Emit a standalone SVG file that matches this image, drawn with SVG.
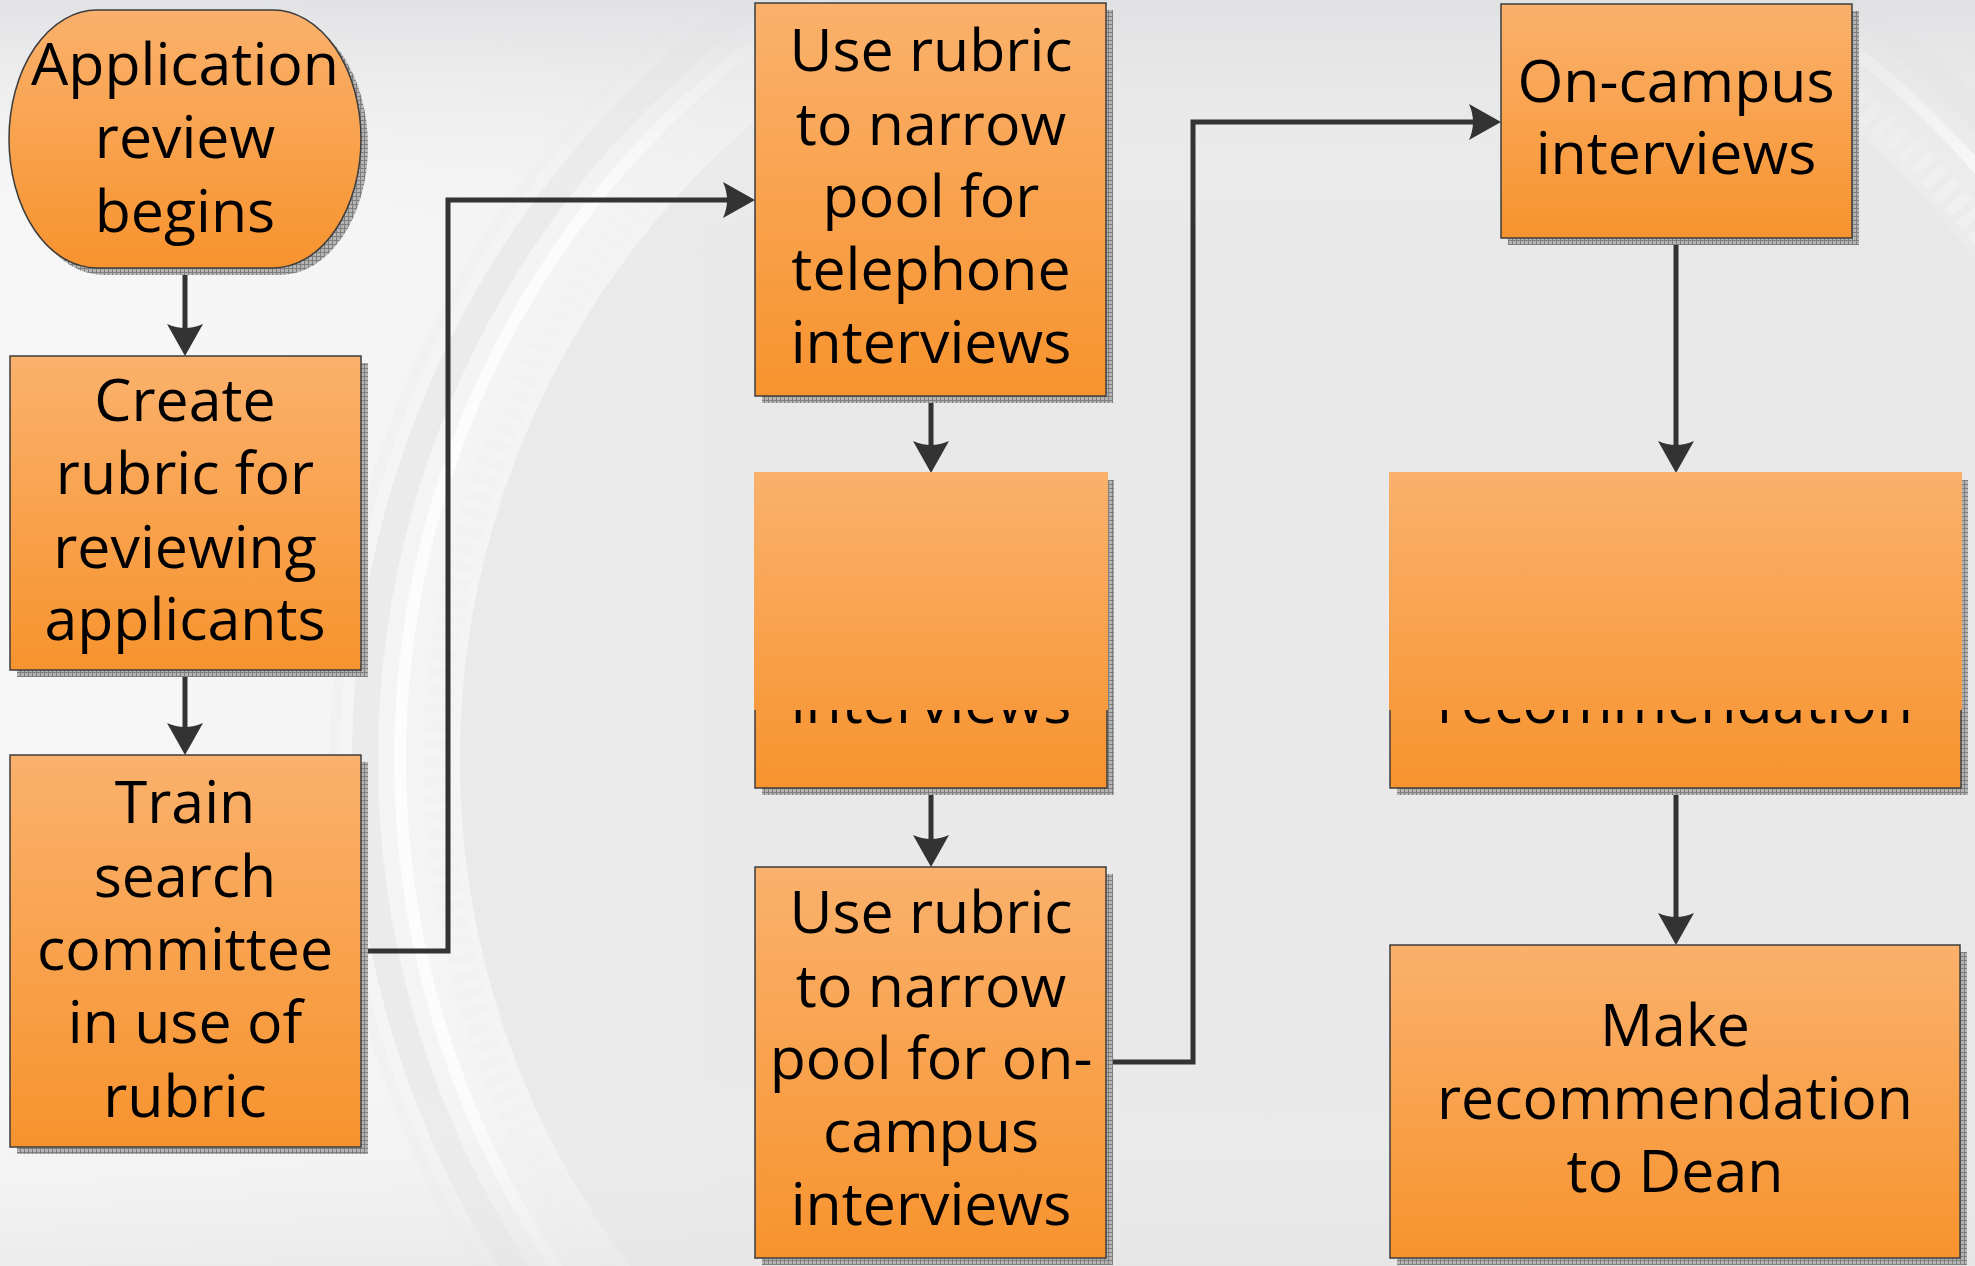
<svg xmlns="http://www.w3.org/2000/svg" width="1975" height="1266" viewBox="0 0 1975 1266">
  <defs>
    <linearGradient id="bgH" x1="0" y1="0" x2="1" y2="0">
      <stop offset="0" stop-color="#f7f7f7"/>
      <stop offset="1" stop-color="#ebebeb"/>
    </linearGradient>
    <linearGradient id="bgTop" x1="0" y1="0" x2="0" y2="1">
      <stop offset="0" stop-color="#dfe0e2" stop-opacity="0.9"/>
      <stop offset="0.18" stop-color="#f2f2f2" stop-opacity="0"/>
      <stop offset="0.85" stop-color="#f2f2f2" stop-opacity="0"/>
      <stop offset="1" stop-color="#e4e4e4" stop-opacity="0.6"/>
    </linearGradient>
    <linearGradient id="orange" x1="0" y1="0" x2="0" y2="1">
      <stop offset="0" stop-color="#fab16c"/>
      <stop offset="1" stop-color="#f7932e"/>
    </linearGradient>
    <linearGradient id="orangeMid" gradientUnits="userSpaceOnUse" x1="0" y1="473" x2="0" y2="788">
      <stop offset="0" stop-color="#fab16c"/>
      <stop offset="1" stop-color="#f7932e"/>
    </linearGradient>
    <pattern id="hatch" width="4" height="4" patternUnits="userSpaceOnUse">
      <rect width="4" height="4" fill="#b4b4b4"/>
      <path d="M0 0.5H4M0.5 0V4" stroke="#7e7e7e" stroke-width="1"/>
    </pattern>
    <marker id="arrow" markerUnits="userSpaceOnUse" markerWidth="60" markerHeight="60" viewBox="-20 -30 50 60" refX="0" refY="0" orient="auto" overflow="visible">
      <path d="M20 0 L-12 -18 Q-4 0 -12 18 Z" fill="#333333"/>
    </marker>
    <style>
      .box { fill: url(#orange); stroke: #3c3c3c; stroke-width: 1.5; }
      .shadow { fill: url(#hatch); }
      .lbl { font-family: "Open Sans", "Liberation Sans", sans-serif; font-size: 59px; fill: #000; text-anchor: middle; }
      .conn { fill: none; stroke: #333333; stroke-width: 5; marker-end: url(#arrow); }
    </style>
  </defs>

  <!-- background -->
  <rect x="0" y="0" width="1975" height="1266" fill="url(#bgH)"/>
  <circle cx="1300" cy="760" r="840" fill="#e8e7e7" opacity="0.85"/>
  <circle cx="1300" cy="760" r="862" fill="none" stroke="#f1f1f1" stroke-width="28" stroke-dasharray="10 8" opacity="0.8"/>
  <circle cx="1300" cy="760" r="900" fill="none" stroke="#ffffff" stroke-width="12" opacity="0.75"/>
  <circle cx="1300" cy="760" r="935" fill="none" stroke="#e2e2e2" stroke-width="26" opacity="0.5"/>
  <circle cx="1300" cy="760" r="965" fill="none" stroke="#eeeeee" stroke-width="10" opacity="0.5"/>
  <rect x="0" y="0" width="1975" height="1266" fill="url(#bgTop)"/>

  <!-- connectors -->
  <g id="connectors">
    <path class="conn" d="M185 268 V336"/>
    <path class="conn" d="M185 670 V735"/>
    <path class="conn" d="M361 951 H448 V200 H735"/>
    <path class="conn" d="M931 396 V453"/>
    <path class="conn" d="M931 788 V847"/>
    <path class="conn" d="M1106 1062 H1193 V122 H1481"/>
    <path class="conn" d="M1676 238 V453"/>
    <path class="conn" d="M1676 788 V925"/>
  </g>

  <g id="n1">
    <path class="shadow" d="M104 17 H280 A88 129 0 0 1 280 275 H104 A88 129 0 0 1 104 17 Z"/>
    <path class="box" d="M97 10 H273 A88 129 0 0 1 273 268 H97 A88 129 0 0 1 97 10 Z"/>
    <text class="lbl" x="185" y="85">Application</text>
    <text class="lbl" x="185" y="158">review</text>
    <text class="lbl" x="185" y="232">begins</text>
  </g>

  <g id="n2">
    <rect class="shadow" x="17" y="363" width="351" height="314"/>
    <rect class="box" x="10" y="356" width="351" height="314"/>
    <text class="lbl" x="185" y="421">Create</text>
    <text class="lbl" x="185" y="494">rubric for</text>
    <text class="lbl" x="185" y="568">reviewing</text>
    <text class="lbl" x="185" y="640">applicants</text>
  </g>

  <g id="n3">
    <rect class="shadow" x="17" y="762" width="351" height="392"/>
    <rect class="box" x="10" y="755" width="351" height="392"/>
    <text class="lbl" x="185" y="823">Train</text>
    <text class="lbl" x="185" y="897">search</text>
    <text class="lbl" x="185" y="970">committee</text>
    <text class="lbl" x="185" y="1043">in use of</text>
    <text class="lbl" x="185" y="1117">rubric</text>
  </g>

  <g id="n4">
    <rect class="shadow" x="762" y="10" width="351" height="393"/>
    <rect class="box" x="755" y="3" width="351" height="393"/>
    <text class="lbl" x="931" y="71">Use rubric</text>
    <text class="lbl" x="931" y="145">to narrow</text>
    <text class="lbl" x="931" y="217">pool for</text>
    <text class="lbl" x="931" y="290">telephone</text>
    <text class="lbl" x="931" y="363">interviews</text>
  </g>

  <g id="n5">
    <rect class="shadow" x="762" y="480" width="352" height="315"/>
    <rect class="box" x="755" y="473" width="352" height="315" style="fill:url(#orangeMid)"/>
    <text class="lbl" x="931" y="723">interviews</text>
    <rect x="754" y="472" width="354" height="238" fill="url(#orangeMid)"/>
  </g>

  <g id="n6">
    <rect class="shadow" x="762" y="874" width="351" height="391"/>
    <rect class="box" x="755" y="867" width="351" height="391"/>
    <text class="lbl" x="931" y="933">Use rubric</text>
    <text class="lbl" x="931" y="1007">to narrow</text>
    <text class="lbl" x="931" y="1079">pool for on-</text>
    <text class="lbl" x="931" y="1152">campus</text>
    <text class="lbl" x="931" y="1225">interviews</text>
  </g>

  <g id="n7">
    <rect class="shadow" x="1508" y="11" width="351" height="234"/>
    <rect class="box" x="1501" y="4" width="351" height="234"/>
    <text class="lbl" x="1676" y="102">On-campus</text>
    <text class="lbl" x="1676" y="174">interviews</text>
  </g>

  <g id="n8">
    <rect class="shadow" x="1397" y="480" width="571" height="315"/>
    <rect class="box" x="1390" y="473" width="571" height="315" style="fill:url(#orangeMid)"/>
    <text class="lbl" x="1675" y="723">recommendation</text>
    <rect x="1389" y="472" width="573" height="238" fill="url(#orangeMid)"/>
  </g>

  <g id="n9">
    <rect class="shadow" x="1397" y="952" width="570" height="313"/>
    <rect class="box" x="1390" y="945" width="570" height="313"/>
    <text class="lbl" x="1675" y="1046">Make</text>
    <text class="lbl" x="1675" y="1119">recommendation</text>
    <text class="lbl" x="1675" y="1192">to Dean</text>
  </g>
</svg>
